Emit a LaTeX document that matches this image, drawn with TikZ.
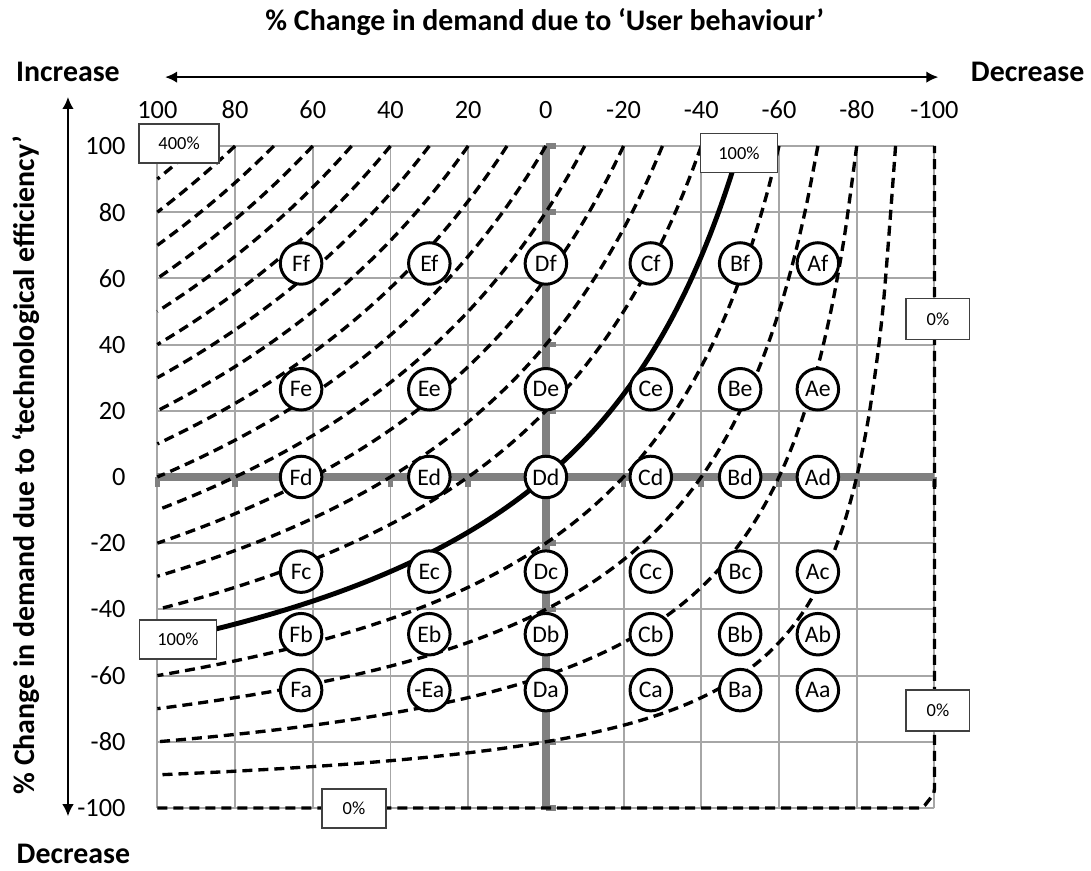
\documentclass[tikz,border=0pt]{standalone}
\usepackage{fontspec}
\setmainfont{Carlito}
\usetikzlibrary{arrows.meta, positioning, calc}
\definecolor{gridgray}{RGB}{166,166,166}
\definecolor{axisgray}{RGB}{128,128,128}

\begin{document}
\begin{tikzpicture}[x=-0.0777cm, y=0.0662cm,
    gridline/.style={gridgray, line width=1.1pt},
    axisline/.style={axisgray, line width=4.4pt},
    axistick/.style={axisgray, line width=3.2pt},
    contour/.style={black, line width=1.9pt, dash pattern=on 5.7pt off 3.4pt},
    mainline/.style={black, line width=2.8pt},
    cell/.style={circle, draw, line width=1.7pt, fill=white, minimum size=8.3mm, inner sep=0pt, font=\fontsize{13.5}{15}\selectfont},
    pct/.style={draw=black!75, line width=0.8pt, fill=white, inner sep=0pt, minimum height=7.8mm, font=\fontsize{10.5}{12}\selectfont},
    ticklbl/.style={font=\fontsize{15}{18}\selectfont},
    heading/.style={font=\bfseries\fontsize{17}{20}\selectfont},
    twoway/.style={line width=1.1pt, {Latex[length=2.4mm,width=2.3mm]}-{Latex[length=2.4mm,width=2.3mm]}}]

    \useasboundingbox (140.5,144.1) rectangle (-140.3,-119);

    \foreach \v in {-100,-80,...,100} {
        \draw[gridline] (\v,-100) -- (\v,100);
        \draw[gridline] (-100,\v) -- (100,\v);
    }

    \draw[axisline] (100,0) -- (-100,0);
    \draw[axisline] (0,-100) -- (0,100);
    \foreach \v in {-100,-80,...,100} {
        \draw[axistick] (\v,0) -- (\v,-3);
        \draw[axistick] (0,\v) -- (-2.6,\v);
    }

    \foreach \k in {1,2,3,4,6,7,8,9,10,11,12,13,14,15,16,17,18,19}
        \draw[contour] plot[smooth, samples=60, domain={10*\k-100}:100] (\x, {100*(20*\k/(100+\x))-100});
    \draw[mainline] plot[smooth, samples=60, domain=-50:100] (\x, {100*(100/(100+\x))-100});
    \draw[contour, rounded corners=2pt] (100,-100) -- (-97,-100) -- (-100,-95.5) -- (-100,100);

    \foreach \c/\u/\a in {F/63/Fa, E/30/-Ea, D/0/Da, C/-27/Ca, B/-50/Ba, A/-70/Aa} {
        \foreach \r/\t in {f/64.5, e/26.5, d/0, c/-28.6, b/-47.5}
            \node[cell] (\c\r) at (\u,\t) {\c\r};
        \node[cell] (\c a) at (\u,-64.4) {\a};
    }

    \node[pct, minimum width=1.6cm] (p400) at (94.4,100.7) {400\%};
    \node[pct, minimum width=1.54cm] (p100top) at (-49.7,97.9) {100\%};
    \node[pct, minimum width=1.54cm] (p100left) at (94.7,-49.1) {100\%};
    \node[pct, minimum width=1.28cm] (p0bottom) at (49.4,-100.2) {0\%};
    \node[pct, minimum width=1.27cm, minimum height=8.2mm] (p0upper) at (-100.9,47.7) {0\%};
    \node[pct, minimum width=1.27cm, minimum height=8.2mm] (p0lower) at (-100.9,-70.5) {0\%};

    \foreach \v in {-100,-80,...,100} {
        \node[ticklbl] (top\v) at (\v,110.9) {\v};
        \node[ticklbl, anchor=east] (left\v) at (106.6,\v) {\v};
    }

    \node[heading] (title) at (0.3,137.5) {\% Change in demand due to ‘User behaviour’};
    \node[heading] (incr) at (123,122.4) {Increase};
    \node[heading] (decr) at (-124,122.4) {Decrease};
    \node[heading] (decrb) at (121.6,-113.8) {Decrease};
    \node[heading, rotate=90] (ylabel) at (133.8,3.5) {\% Change in demand due to ‘technological efficiency’};

    \coordinate (hl) at (98,120.8);
    \coordinate (hr) at (-101,120.8);
    \coordinate (vt) at (123,114.8);
    \coordinate (vb) at (123,-102.5);
    \draw[twoway] (hl) -- (hr);
    \draw[twoway] (vt) -- (vb);
\end{tikzpicture}
\end{document}
